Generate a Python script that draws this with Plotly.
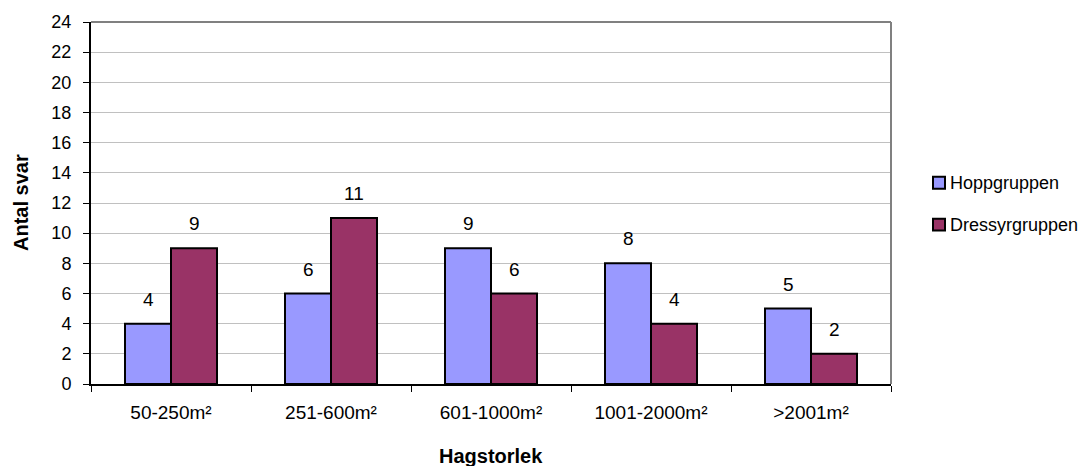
import plotly.graph_objects as go

categories = ["50-250m²", "251-600m²", "601-1000m²", "1001-2000m²", ">2001m²"]
hopp = [4, 6, 9, 8, 5]
dressyr = [9, 11, 6, 4, 2]
y_ticks = list(range(0, 25, 2))

series = [
    ("Hoppgruppen", hopp, "#9999ff"),
    ("Dressyrgruppen", dressyr, "#993366"),
]

FONT = "Liberation Sans, Arial, sans-serif"
BAR_GAP = 0.425
PLOT_W = 800
CAT_W = PLOT_W / len(categories)
BAR_W = CAT_W * (1 - BAR_GAP) / len(series)

fig = go.Figure()
for name, vals, color in series:
    fig.add_trace(go.Bar(
        name=name, x=categories, y=vals,
        marker=dict(color=color, line=dict(color="#000000", width=2)),
        showlegend=False,
    ))

# value labels above each bar
for i, (name, vals, color) in enumerate(series):
    shift = (i - (len(series) - 1) / 2) * BAR_W
    for cat, v in zip(categories, vals):
        fig.add_annotation(
            x=cat, y=v, xref="x", yref="y", text=str(v), showarrow=False,
            xshift=shift, yshift=12, yanchor="bottom",
            font=dict(size=19, color="#000000", family=FONT),
        )

fig.update_layout(
    width=1085, height=466,
    margin=dict(l=91, r=194, t=17, b=82),
    paper_bgcolor="#ffffff", plot_bgcolor="#ffffff",
    barmode="group", bargap=BAR_GAP, bargroupgap=0,
    font=dict(family=FONT, size=18, color="#000000"),
    showlegend=False,
    xaxis=dict(
        showline=True, linecolor="#000000", linewidth=2,
        ticks="outside", tickson="boundaries", ticklen=6, tickcolor="#000000",
        tickfont=dict(size=19), ticklabelstandoff=10,
        showgrid=False,
    ),
    yaxis=dict(
        range=[0, 24], tickvals=y_ticks,
        showline=True, linecolor="#000000", linewidth=2,
        ticks="outside", ticklen=6, tickcolor="#000000",
        tickfont=dict(size=18), ticklabelstandoff=8,
        showgrid=True, gridcolor="#c0c0c0", gridwidth=1,
        zeroline=False,
    ),
)

# axis titles
fig.add_annotation(
    x=0, y=0.5, xref="paper", yref="paper", xshift=-70, textangle=-90,
    text="<b>Antal svar</b>", showarrow=False, xanchor="center", yanchor="middle",
    font=dict(size=20, family=FONT, color="#000000"),
)
fig.add_annotation(
    x=0.5, y=0, xref="paper", yref="paper", yshift=-72,
    text="<b>Hagstorlek</b>", showarrow=False, xanchor="center", yanchor="middle",
    font=dict(size=20, family=FONT, color="#000000"),
)

# gray frame along the top and right edge of the plot area
fig.add_shape(type="line", xref="paper", yref="paper", x0=0, x1=1, y0=1, y1=1,
              line=dict(color="#808080", width=2))
fig.add_shape(type="line", xref="paper", yref="paper", x0=1, x1=1, y0=0, y1=1,
              line=dict(color="#808080", width=2))

# legend: small square swatch followed by series name
PLOT_H = 367
legend_x = 1 + (933 - 891) / PLOT_W
sw = 12
for j, (name, vals, color) in enumerate(series):
    yc = 0.556 - j * (42.5 / PLOT_H)
    fig.add_shape(
        type="rect", xref="paper", yref="paper",
        x0=legend_x, x1=legend_x + sw / PLOT_W,
        y0=yc - sw / 2 / PLOT_H, y1=yc + sw / 2 / PLOT_H,
        fillcolor=color, line=dict(color="#000000", width=2),
    )
    fig.add_annotation(
        x=legend_x + (sw + 3) / PLOT_W, y=yc, xref="paper", yref="paper",
        text=name, showarrow=False, xanchor="left", yanchor="middle",
        font=dict(size=18, family=FONT, color="#000000"),
    )

fig.write_html("out.html")
